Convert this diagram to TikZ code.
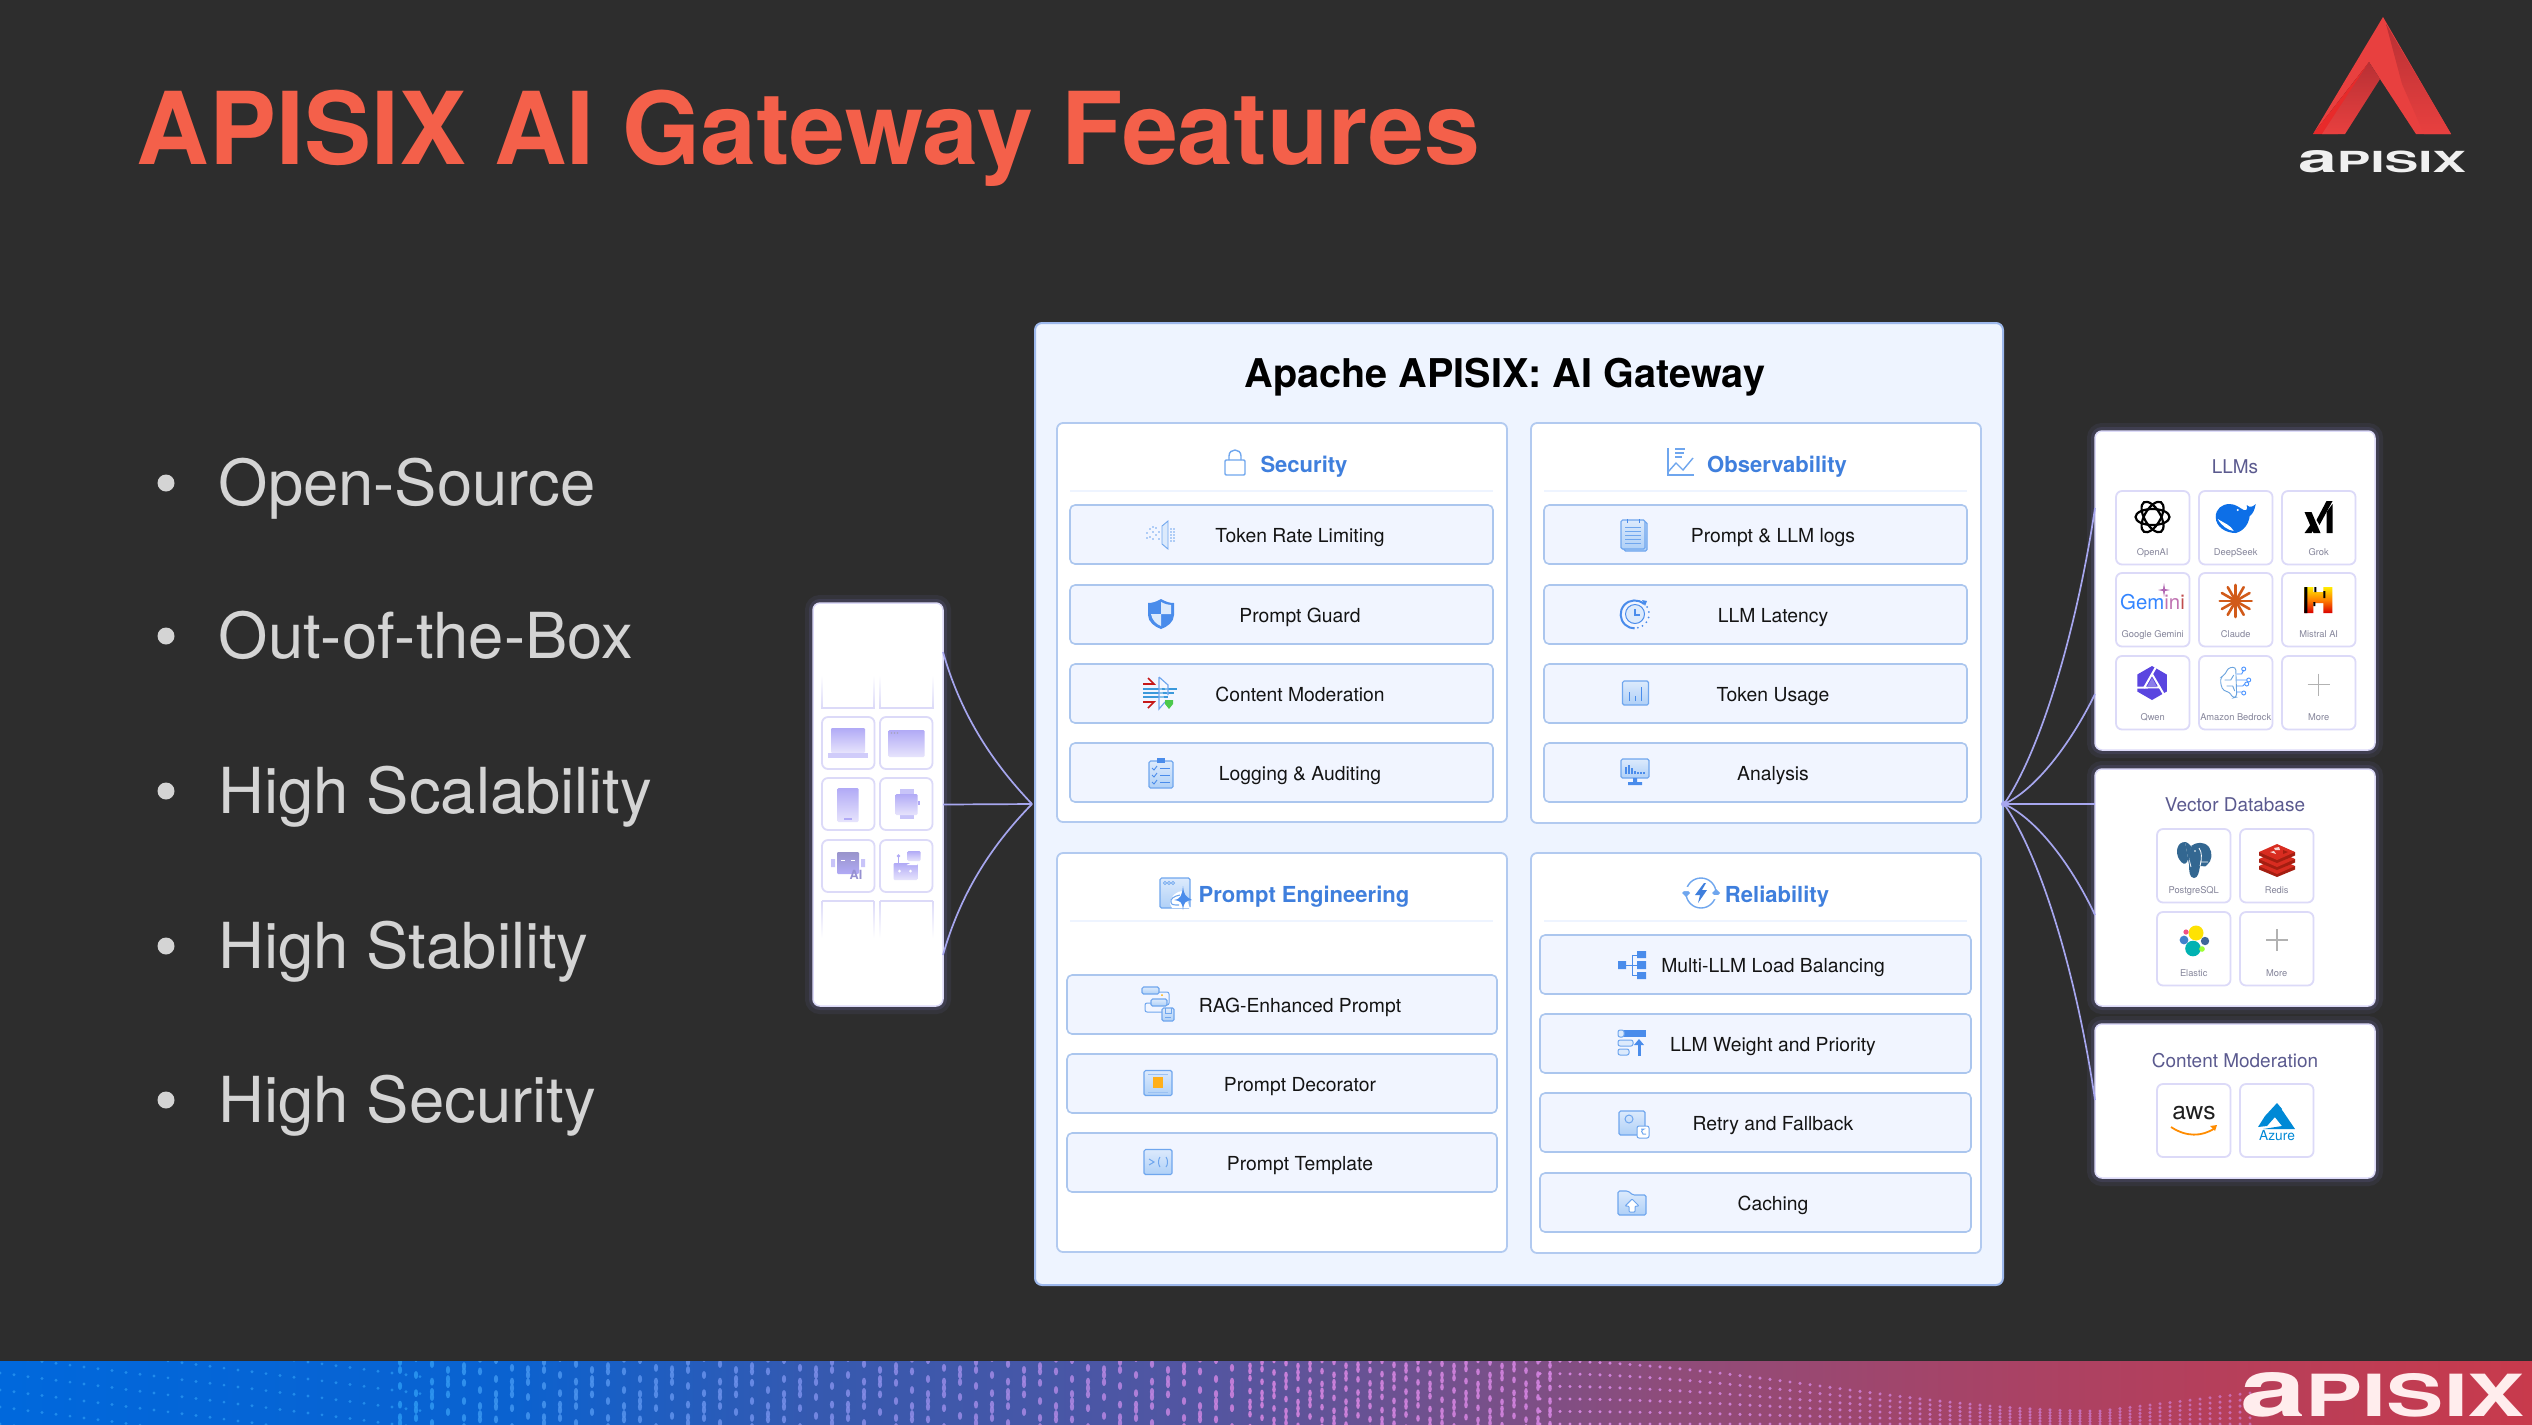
\documentclass[tikz,border=0pt]{standalone}
\usepackage{fontspec}
\setmainfont{TeX Gyre Heros}
\usetikzlibrary{positioning}

\definecolor{slidebg}{HTML}{2D2D2D}
\definecolor{titlered}{HTML}{F4604A}
\definecolor{bulletc}{HTML}{D4D4D4}
\definecolor{gwfill}{HTML}{EEF4FF}
\definecolor{gwline}{HTML}{9DB8EC}
\definecolor{panelline}{HTML}{B2CAF0}
\definecolor{itemfill}{HTML}{F1F5FF}
\definecolor{itemline}{HTML}{ABC6EE}
\definecolor{headblue}{HTML}{3F7FDD}
\definecolor{iconblue}{HTML}{4A8CEB}
\definecolor{padtop}{HTML}{DCEAFC}
\definecolor{padbot}{HTML}{AFD0F7}
\definecolor{padline}{HTML}{6FA6EE}
\definecolor{catc}{HTML}{5B5A8F}
\definecolor{cellline}{HTML}{DCDAF8}
\definecolor{celltxt}{HTML}{85859A}
\definecolor{flowc}{HTML}{A6A6EE}
\definecolor{glowc}{HTML}{8F88E8}
\definecolor{devtop}{HTML}{B1AAF6}
\definecolor{devbot}{HTML}{E7E4FC}
\definecolor{dotblue}{HTML}{2A98F2}
\definecolor{dotpink}{HTML}{D484E0}
\definecolor{fba}{HTML}{0068DC}
\definecolor{fbb}{HTML}{0A62D0}
\definecolor{fbc}{HTML}{3559B0}
\definecolor{fbd}{HTML}{5455A0}
\definecolor{fbe}{HTML}{8F4C7A}
\definecolor{fbf}{HTML}{AA4264}
\definecolor{fbg}{HTML}{C83A4C}
\definecolor{logoa}{HTML}{E8403F}
\definecolor{logob}{HTML}{B83034}
\definecolor{logoc}{HTML}{E82A2A}
\definecolor{qwenc}{HTML}{5A45E0}
\definecolor{pgblue}{HTML}{336791}
\definecolor{redisa}{HTML}{D82C20}
\definecolor{redisb}{HTML}{A41E11}
\definecolor{azurec}{HTML}{0089D6}

\pgfdeclarehorizontalshading{footerbar}{100bp}{color(0bp)=(fba); color(25bp)=(fba); color(35bp)=(fbb); color(41bp)=(fbc); color(49bp)=(fbd); color(58bp)=(fbe); color(65bp)=(fbf); color(75bp)=(fbg); color(100bp)=(fbg)}

\newcommand{\boxat}[6][]{\node[#1, minimum width={(#5-#3)*0.1mm}, minimum height={(#6-#4)*0.1mm}] (#2) at ({(#3+#5)/2},{(#4+#6)/2}) {};}
\newcommand{\apxlogo}{\bfseries\scalebox{1.38}{a}PISIX}

\tikzset{
    gwbox/.style={draw=gwline, fill=gwfill, rounded corners=0.7mm, line width=0.2mm, inner sep=0, outer sep=0},
    panel/.style={draw=panelline, fill=white, rounded corners=0.6mm, line width=0.18mm, inner sep=0, outer sep=0},
    itembox/.style={draw=itemline, fill=itemfill, rounded corners=0.5mm, line width=0.16mm, inner sep=0, outer sep=0},
    sidebox/.style={draw=cellline, fill=white, rounded corners=0.7mm, line width=0.15mm, inner sep=0, outer sep=0,
        preaction={draw=glowc, line width=1.6mm, draw opacity=0.08},
        preaction={draw=glowc, line width=0.8mm, draw opacity=0.12}},
    catcell/.style={draw=cellline, fill=white, rounded corners=0.6mm, line width=0.18mm, inner sep=0, outer sep=0},
    itemtext/.style={anchor=mid, inner sep=0, text=black!92, font=\fontsize{5.5}{6}\selectfont},
    headtext/.style={anchor=mid, inner sep=0, text=headblue, font=\fontsize{6.27}{7}\selectfont\bfseries},
    cattext/.style={anchor=mid, inner sep=0, text=catc, font=\fontsize{5.4}{6}\selectfont},
    celltext/.style={anchor=mid, inner sep=0, text=celltxt, font=\fontsize{2.65}{3}\selectfont},
    bullettext/.style={anchor=mid west, inner sep=0, text=bulletc, font=\fontsize{18.05}{20}\selectfont},
    flow/.style={draw=flowc, line width=0.17mm},
    rule/.style={draw=gwfill, line width=0.12mm},
    hdline/.style={draw=padline, line width=0.14mm},
    strokeb/.style={draw=iconblue, line width=0.14mm},
    iconpad/.style={draw=padline, line width=0.11mm, top color=padtop, bottom color=padbot, rounded corners=0.15mm},
    devpad/.style={top color=devtop, bottom color=devbot, rounded corners=0.12mm},
    lockicon/.pic={
        \draw[hdline, fill=white, rounded corners=0.12mm] (-10,-2) rectangle (10,13);
        \draw[hdline] (-6,-2) -- (-6,-6) .. controls (-6,-14) and (6,-14) .. (6,-6) -- (6,-2);
    },
    charticon/.pic={
        \draw[hdline] (-13,-14) -- (-13,13) -- (13,13);
        \draw[hdline] (-13,10) -- (-5,1) -- (2,8) -- (12,-4);
        \draw[hdline] (-6,-13) -- (4,-13) (-6,-9) -- (3,-9) (-6,-5) -- (1,-5);
    },
    prompthead/.pic={
        \path[iconpad] (-15,-15) rectangle (15,15);
        \foreach \x in {-10,-6,-2} \draw[padline, line width=0.08mm] (\x,-10) circle [radius=1.6];
        \fill[white] (-5,11) .. controls (-4,2) and (2,-2) .. (8,-2) -- (15,15) -- (-3,15) -- cycle;
        \draw[padline, line width=0.11mm] (5,2) .. controls (-1,3) and (-5,6) .. (-4,9) .. controls (-4,12) and (-1,12) .. (4,12);
        \fill[iconblue] (8,-7) .. controls (9,2) and (10,3) .. (17,7) .. controls (10,8) and (9,9) .. (8,17) .. controls (7,9) and (6,8) .. (-1,7) .. controls (6,6) and (7,2) .. (8,-7) -- cycle;
    },
    reliicon/.pic={
        \draw[hdline] (0,0) circle [radius=15];
        \fill[padline] (-19,0) -- (-15,-4) -- (-11,0) -- (-15,4) -- cycle (19,0) -- (15,-4) -- (11,0) -- (15,4) -- cycle;
        \fill[white] (-17,-2) rectangle (-13,-6) (13,2) rectangle (17,6);
        \fill[headblue] (3,-10) -- (-6,2) -- (-1,2) -- (-3,10) -- (6,-3) -- (1,-3) -- (5,-10) -- cycle;
    },
    tokenicon/.pic={
        \draw[padline, line width=0.09mm, fill=padtop] (1,-9) -- (7,-14) -- (7,14) -- (1,9) -- cycle;
        \foreach \a/\b in {-14/-2,-11/-6,-11/2,-8/-3,-8/4,-5/-7,-5/0,-2/-3,-2/4,-14/3,-8/-8}
            \fill[padline] (\a,\b) circle [radius=0.9];
        \foreach \a in {10,13} \foreach \b in {-6,-3,0,3,6}
            \fill[padline] (\a,\b) circle [radius=0.8];
    },
    shieldicon/.pic={
        \fill[iconblue] (0,-15) .. controls (5,-12) and (9,-11) .. (13,-11) -- (13,1) .. controls (13,8) and (6,13) .. (0,15) .. controls (-6,13) and (-13,8) .. (-13,1) -- (-13,-11) .. controls (-9,-11) and (-5,-12) .. (0,-15) -- cycle;
        \fill[padtop] (0,-12) .. controls (4,-10) and (7,-9) .. (10,-9) -- (10,0) -- (0,0) -- cycle;
        \fill[padtop] (0,0) -- (-10,0) .. controls (-9,6) and (-5,10) .. (0,12) -- cycle;
    },
    modicon/.pic={
        \draw[cyan!70!blue!80, line width=0.12mm] (-17,-4) -- (17,-4) (-17,0) -- (14,0) (-17,4) -- (8,4);
        \draw[red!75!black!90, line width=0.16mm] (-17,-9) -- (-6,-9) -- (-12,-15) (-17,9) -- (-6,9) -- (-12,15);
        \draw[padline, line width=0.12mm, fill=white, fill opacity=0.4] (-1,-16) -- (8,-8) -- (8,2) (-1,-16) -- (-1,16) -- (5,9);
        \fill[green!70!black!70] (5,7) -- (13,7) -- (13,11) -- (9,16) -- (5,11) -- cycle;
    },
    logicon/.pic={
        \path[iconpad] (-12,-12) rectangle (12,15);
        \fill[iconblue] (-4,-15) rectangle (4,-10);
        \foreach \y in {-5,2,9} {
            \draw[iconblue, line width=0.09mm] (-9,\y) -- (-7,\y+2) -- (-4,\y-2);
            \draw[iconblue, line width=0.09mm] (-1,\y) -- (9,\y);
        }
    },
    docicon/.pic={
        \path[iconpad] (-10,-13) rectangle (13,16);
        \path[iconpad] (-13,-15) rectangle (11,14);
        \foreach \y in {-8,-4,0,4,8} \draw[padline, line width=0.07mm] (-9,\y) -- (7,\y);
        \draw[iconblue, line width=0.1mm] (-7,-16) -- (-7,-12) (5,-16) -- (5,-12);
    },
    latencyicon/.pic={
        \draw[strokeb, line width=0.2mm] (9,-10) arc (-48:-270:14);
        \draw[iconblue, line width=0.1mm, fill=padtop] (0,0) circle [radius=9.5];
        \draw[iconblue, line width=0.14mm] (0,-5) -- (0,1) -- (5,1);
        \foreach \a in {-30,-8,14,36,58,78} \fill[iconblue] (\a:14) circle [radius=1];
        \fill[iconblue] (12,-13) -- (7,-14) -- (10,-8) -- cycle;
    },
    usageicon/.pic={
        \path[iconpad] (-13,-12) rectangle (13,12);
        \draw[iconblue, line width=0.16mm] (-6,8) -- (-6,-1) (0,8) -- (0,3) (6,8) -- (6,-6);
    },
    analysisicon/.pic={
        \path[iconpad] (-14,-13) rectangle (14,6);
        \draw[iconblue, line width=0.16mm] (-9,2) -- (-9,-5) (-6,2) -- (-6,-7) (-3,2) -- (-3,-4) (0,2) -- (0,-1) (3,2) -- (3,0) (6,2) -- (6,0) (9,2) -- (9,0);
        \fill[iconblue] (-2,6) rectangle (2,10) (-7,10) rectangle (7,13);
    },
    ragicon/.pic={
        \draw[padline, line width=0.1mm, rounded corners=0.2mm] (-4,-12) -- (11,-12) -- (11,1) -- (6,1);
        \draw[padline, line width=0.1mm, rounded corners=0.2mm] (-6,-1) -- (-13,-1) -- (-13,8) -- (4,8);
        \path[iconpad] (-16,-17) rectangle (1,-10);
        \path[iconpad] (-7,-5) rectangle (9,2);
        \path[iconpad] (4,4) rectangle (16,17);
        \draw[padline, line width=0.08mm] (7,4) -- (7,9) -- (13,9) -- (13,4) (7,13) -- (13,13);
        \fill[orange!60!yellow] (4,-9) circle [radius=1];
    },
    decoicon/.pic={
        \path[iconpad] (-14,-12.5) rectangle (14,12.5);
        \fill[orange!70!yellow!90] (-5,-6) rectangle (5,5);
        \draw[padline!70, line width=0.06mm] (-10,-9) -- (10,-9) (-10,9) -- (10,9);
    },
    templateicon/.pic={
        \path[iconpad] (-14,-12.5) rectangle (14,12.5);
        \draw[padline, line width=0.1mm] (-9,-3) -- (-4,0) -- (-9,3);
        \draw[padline, line width=0.1mm] (2,-5) .. controls (0,-3) and (0,3) .. (2,5) (8,-5) .. controls (10,-3) and (10,3) .. (8,5);
    },
    multiicon/.pic={
        \draw[iconblue, line width=0.1mm] (-6,0) -- (5,0) (0,-10) -- (0,10) (0,-10) -- (5,-10) (0,10) -- (5,10);
        \fill[iconblue] (-14,-4) rectangle (-6,4) (5,-14) rectangle (14,-7) (5,-4) rectangle (14,4) (5,7) rectangle (14,14);
    },
    weighticon/.pic={
        \fill[iconblue] (-9,-13) rectangle (14,-6);
        \draw[padline, line width=0.1mm, fill=padtop, rounded corners=0.2mm] (-14,-13) rectangle (-8,-6) (-14,-3) rectangle (1,3) (-14,6) rectangle (-3,12);
        \draw[iconblue, line width=0.3mm] (7,13) -- (7,-1);
        \fill[iconblue] (7,-4) -- (12,2) -- (2,2) -- cycle;
    },
    retryicon/.pic={
        \path[iconpad] (-15,-13) rectangle (11,11);
        \draw[padline, line width=0.1mm, fill=white, rounded corners=0.2mm] (3,2) rectangle (15,14);
        \draw[padline, line width=0.1mm] (-5,-5) circle [radius=4];
        \draw[padline, line width=0.1mm] (12,10) -- (9,10) .. controls (7,9) and (7,6) .. (10,5) -- (7,5);
    },
    cacheicon/.pic={
        \path[iconpad] (-14,-12) -- (-4,-12) -- (1,-8) -- (14,-8) -- (14,12) -- (-14,12) -- cycle;
        \draw[padline, line width=0.1mm, fill=white, rounded corners=0.1mm] (0,-4) -- (7,3) -- (3,3) -- (3,9) -- (-3,9) -- (-3,3) -- (-7,3) -- cycle;
    },
    laptopicon/.pic={
        \path[devpad] (-17,-15) rectangle (17,10);
        \fill[devtop!60] (-20,10) rectangle (20,15);
    },
    browsericon/.pic={
        \path[devpad] (-18,-13) rectangle (18,14);
        \foreach \x in {-15,-12,-9} \fill[devtop!60!black!60] (\x,-10) circle [radius=0.9];
    },
    phoneicon/.pic={
        \path[devpad] (-10.5,-16) rectangle (10.5,18);
        \fill[devtop] (-4,14) rectangle (4,16);
    },
    watchicon/.pic={
        \fill[devtop!70] (-7,-15) rectangle (7,15);
        \path[devpad] (-11,-10) rectangle (11,11);
        \fill[devtop] (11,-3) rectangle (13,1);
    },
    roboticon/.pic={
        \path[devpad, top color=devtop!80!black!90, bottom color=devtop] (-11,-13) rectangle (11,9);
        \fill[devtop!70] (-17,-6) rectangle (-13,2) (13,-6) rectangle (17,2);
        \draw[white, line width=0.1mm] (-7,-5) -- (-3,-5) (3,-5) -- (7,-5);
        \node[inner sep=0, text=devtop!85!black, font=\fontsize{3.6}{4}\selectfont\bfseries] (robottxt) at (8,10) {AI};
    },
    ioticon/.pic={
        \path[devpad] (-13,-2) rectangle (11,15);
        \fill[white] (0,0) -- (11,-6) -- (11,0) -- cycle;
        \draw[devtop, line width=0.12mm] (-8,-2) -- (-8,-8);
        \fill[devtop] (-8,-9) circle [radius=1.8];
        \path[devpad] (1,-14) rectangle (14,-4);
        \fill[white] (-7,6) circle [radius=1.5] (4,6) circle [radius=1.5];
    },
    openaiicon/.pic={
        \foreach \r in {0,60,120}
            \draw[black, line width=0.22mm, rotate=\r] (0,0) ellipse [x radius=17, y radius=8];
    },
    whaleicon/.pic={
        \fill[blue!55!cyan!90!black!95] (-20,0) .. controls (-20,-8) and (-14,-13) .. (-6,-13) .. controls (0,-13) and (4,-9) .. (8,-7) .. controls (11,-6) and (12,-8) .. (11,-12) .. controls (14,-9) and (17,-10) .. (20,-13) .. controls (19,-7) and (17,-3) .. (14,-1) .. controls (13,7) and (8,14) .. (0,16) .. controls (-10,16) and (-20,10) .. (-20,0) -- cycle;
        \fill[white] (-18,2) .. controls (-12,6) and (-5,8) .. (-2,14) .. controls (-8,13) and (-14,9) .. (-18,2) -- cycle;
        \fill[white] (2,-7) circle [radius=1.2];
    },
    xaiicon/.pic={
        \fill[black] (-14,-5) -- (-7,-5) -- (2,16) -- (-5,16) -- cycle;
        \fill[black] (-14,16) -- (-7,16) -- (-3,10) -- (-6,5) -- cycle;
        \fill[black] (-2,3) -- (1,8) -- (14,-16) -- (8,-16) -- cycle;
        \fill[black] (8,-5) -- (14,-13) -- (14,16) -- (8,16) -- cycle;
    },
    claudeicon/.pic={
        \foreach \a in {0,30,...,330}
            \draw[orange!70!red!80!black!90, line width=0.26mm, line cap=round] (0,0) -- (\a:16);
    },
    mistralicon/.pic={
        \path[top color=yellow!85!orange, bottom color=red!85!black, middle color=orange] (-14,-13) -- (-5,-13) -- (-5,-8) -- (5,-8) -- (5,-13) -- (14,-13) -- (14,13) -- (5,13) -- (5,3) -- (-5,3) -- (-5,13) -- (-14,13) -- cycle;
        \fill[black] (-14,-13) rectangle (-11,13) (-4,-13) rectangle (-2,-8) (5,-9) rectangle (7,-2) (-5,2) rectangle (-3,6);
    },
    qwenicon/.pic={
        \fill[qwenc] (30:17) -- (90:17) -- (150:17) -- (210:17) -- (270:17) -- (330:17) -- cycle;
        \foreach \r in {0,120,240}
            \draw[white, line width=0.2mm, rotate=\r] (-8,5) -- (4,-16);
        \fill[qwenc!70!white] (0,-5) -- (5,4) -- (-5,4) -- cycle;
    },
    bedrockicon/.pic={
        \draw[cyan!60!blue!60, line width=0.09mm, rounded corners=0.3mm] (0,-16) -- (-8,-15) -- (-10,-9) -- (-15,-6) -- (-15,2) -- (-12,8) -- (-6,9) -- (-3,15) -- (1,14) -- cycle;
        \draw[cyan!60!blue!60, line width=0.09mm] (-11,-3) -- (-5,-3) -- (-2,-8) (-9,3) -- (-3,3) -- (-1,8);
        \draw[blue!60!cyan!70, line width=0.09mm] (1,-9) -- (6,-9) -- (8,-13) (1,-3) -- (11,-3) (1,3) -- (7,3) -- (9,1) (1,9) -- (6,9);
        \foreach \a/\b/\c in {8/-14/2,13/-3/2,11/1/2,8/10/2}
            \draw[blue!60!cyan!70, line width=0.09mm] (\a,\b) circle [radius=\c];
    },
    plusmarkicon/.pic={
        \draw[black!30, line width=0.12mm] (-11,0) -- (11,0) (0,-11) -- (0,11);
    },
    postgresicon/.pic={
        \fill[pgblue] (-9,-18) .. controls (-17,-18) and (-19,-8) .. (-15,-1) .. controls (-12,4) and (-9,5) .. (-7,2) .. controls (-5,-2) and (-5,-8) .. (-3,-14) .. controls (2,-18) and (10,-19) .. (15,-13) .. controls (19,-7) and (18,1) .. (13,5) .. controls (11,8) and (8,5) .. (6,6) .. controls (5,12) and (4,18) .. (0,18) .. controls (-5,18) and (-5,10) .. (-5,4) -- (-9,-18);
        \draw[white, line width=0.08mm] (-3,-14) .. controls (-7,-8) and (-5,0) .. (-3,7) (6,6) .. controls (8,-2) and (8,-8) .. (5,-12) (6,2) -- (14,2);
        \fill[pgblue] (-3,-14) .. controls (-7,-18) and (-8,-18) .. (-9,-18) -- (-5,4) -- cycle;
        \fill[white] (1,-9) circle [radius=0.9];
    },
    redisicon/.pic={
        \foreach \y in {7,0,-7} {
            \fill[redisb] (-18,\y) -- (-18,\y+3.5) -- (0,\y+11) -- (18,\y+3.5) -- (18,\y) -- cycle;
            \fill[redisa] (-18,\y) -- (0,\y-8) -- (18,\y) -- (0,\y+8) -- cycle;
        }
        \fill[white!80!redisa] (-3,-11) -- (2,-12) -- (3,-9) -- (-2,-9) -- cycle (-7,-7) -- (-3,-8) -- (-1,-5) -- cycle;
        \fill[redisb] (6,-9) -- (11,-7) -- (6,-5) -- cycle;
    },
    elasticicon/.pic={
        \fill[yellow!85!orange] (2,-8) circle [radius=7.5];
        \fill[teal!60!cyan] (-1,7.5) circle [radius=7.8];
        \fill[cyan!50!blue!80] (-10,-1) circle [radius=4.4];
        \fill[magenta!60!red!70] (-8,-9) circle [radius=2.6];
        \fill[cyan!50!blue!70!black] (11,0) circle [radius=4.2];
        \fill[lime!70!green!80] (8,8) circle [radius=2.8];
    },
    awsicon/.pic={
        \node[inner sep=0, text=black!88, font=\fontsize{7}{8}\selectfont] (awstxt) at (0,-5) {aws};
        \draw[orange!90!yellow, line width=0.18mm] (-23,9) .. controls (-8,19) and (8,19) .. (21,10);
        \fill[orange!90!yellow] (23,7) -- (16,8) -- (21,13) -- cycle;
    },
    azureicon/.pic={
        \fill[azurec] (0,-15) -- (-12,-2) -- (-19,9) -- (-10,8) -- (5,-9) -- cycle;
        \fill[azurec] (3,-11) -- (18,11) -- (-14,11) -- (5,8) -- (-3,-2) -- cycle;
        \node[inner sep=0, text=azurec, font=\fontsize{3.9}{4}\selectfont] (azuretxt) at (0,18) {Azure};
    }
}

\begin{document}
\begin{tikzpicture}[x=0.1mm, y=-0.1mm]
    \useasboundingbox (0,0) rectangle (2532,1424);
    \fill[slidebg] (0,0) rectangle (2532,1424);

    \node[anchor=mid west, inner sep=0, text=titlered, font=\fontsize{28.6}{32}\selectfont\bfseries] (slidetitle) at (136,155) {APISIX AI Gateway Features};

    \fill[logoa] (2383,17) -- (2451,134) -- (2416,134) -- (2380,79) -- (2369,62) -- (2313,134) -- cycle;
    \fill[logoc] (2369,62) -- (2338,134) -- (2313,134) -- cycle;
    \path[top color=logob, bottom color=logoa] (2369,62) -- (2380,79) -- (2345,134) -- (2322,134) -- cycle;
    \path[top color=logob, bottom color=logoa] (2386,24) -- (2451,134) -- (2424,134) -- (2402,84) -- cycle;
    \node[inner sep=0, text=white!94!black] (toplogo) at (2382,161.5) {\resizebox{16.8mm}{2.2mm}{\apxlogo}};

    \foreach \nm/\y/\txt in {bopen/483/Open-Source, bbox/636/Out-of-the-Box, bscale/791/High Scalability, bstable/946/High Stability, bsecure/1100/High Security} {
        \node[circle, fill=bulletc, inner sep=0, minimum size=1.7mm] (\nm) at (166,\y) {};
        \node[bullettext] (\nm txt) at (218,\y+13) {\txt};
    }

    \boxat[sidebox]{clients}{813}{603}{943}{1006}
    \foreach \nm/\xa/\ya in {dev1/822/717, dev2/880/717, dev3/822/778, dev4/880/778, dev5/822/840, dev6/880/840}
        \boxat[catcell]{\nm}{\xa}{\ya}{\xa+52.5}{\ya+52}
    \foreach \xa in {822,874,880,933} {
        \shade[top color=white, bottom color=cellline] (\xa-0.8,675) rectangle (\xa+0.8,708);
        \shade[top color=cellline, bottom color=white] (\xa-0.8,901) rectangle (\xa+0.8,938);
    }
    \draw[cellline, line width=0.18mm] (822,708) -- (874,708) (880,708) -- (933,708) (822,901) -- (874,901) (880,901) -- (933,901);
    \pic at (848,743) {laptopicon};
    \pic at (906.5,743) {browsericon};
    \pic at (848,804) {phoneicon};
    \pic at (906.5,804) {watchicon};
    \pic at (848,865) {roboticon};
    \pic at (906.5,865) {ioticon};

    \boxat[gwbox]{gateway}{1035}{323}{2003}{1285}
    \node[anchor=mid, inner sep=0, text=black, font=\fontsize{11.27}{13}\selectfont\bfseries] (gwtitle) at (1505,378.5) {Apache APISIX: AI Gateway};

    \boxat[panel]{security}{1057}{423}{1507}{822}
    \boxat[panel]{observ}{1531}{423}{1981}{823}
    \boxat[panel]{prompt}{1057}{853}{1507}{1252}
    \boxat[panel]{relia}{1531}{853}{1981}{1253}
    \draw[rule] (1070,491) -- (1493,491) (1544,491) -- (1967,491) (1070,921) -- (1493,921) (1544,921) -- (1967,921);

    \node[headtext] (sechead) at (1304,463) {Security};
    \node[headtext] (obshead) at (1777,463) {Observability};
    \node[headtext] (promhead) at (1304,893) {Prompt Engineering};
    \node[headtext] (relhead) at (1777,893) {Reliability};
    \pic at (1235,462) {lockicon};
    \pic at (1681,462) {charticon};
    \pic at (1175,893) {prompthead};
    \pic at (1701,893) {reliicon};

    \foreach \nm/\ya/\yb/\txt in {sec1/505/564/Token Rate Limiting, sec2/585/644/Prompt Guard, sec3/664/723/Content Moderation, sec4/743/802/Logging \& Auditing}
        {\boxat[itembox]{\nm}{1070}{\ya}{1493}{\yb}
        \node[itemtext] (\nm txt) at (1300,{(\ya+\yb)/2-1.5}) {\txt};}
    \foreach \nm/\ya/\yb/\txt in {obs1/505/564/Prompt \& LLM logs, obs2/585/644/LLM Latency, obs3/664/723/Token Usage, obs4/743/802/Analysis}
        {\boxat[itembox]{\nm}{1544}{\ya}{1967}{\yb}
        \node[itemtext] (\nm txt) at (1773,{(\ya+\yb)/2-1.5}) {\txt};}
    \foreach \nm/\ya/\yb/\txt in {prm1/975/1034/RAG-Enhanced Prompt, prm2/1054/1113/Prompt Decorator, prm3/1133/1192/Prompt Template}
        {\boxat[itembox]{\nm}{1067}{\ya}{1497}{\yb}
        \node[itemtext] (\nm txt) at (1300,{(\ya+\yb)/2-1.5}) {\txt};}
    \foreach \nm/\ya/\yb/\txt in {rel1/935/994/Multi-LLM Load Balancing, rel2/1014/1073/LLM Weight and Priority, rel3/1093/1152/Retry and Fallback, rel4/1173/1232/Caching}
        {\boxat[itembox]{\nm}{1540}{\ya}{1971}{\yb}
        \node[itemtext] (\nm txt) at (1773,{(\ya+\yb)/2-1.5}) {\txt};}

    \pic at (1161,535) {tokenicon};
    \pic at (1161,614) {shieldicon};
    \pic at (1160,693) {modicon};
    \pic at (1161,773) {logicon};
    \pic at (1634,535) {docicon};
    \pic at (1635,614) {latencyicon};
    \pic at (1635.5,693) {usageicon};
    \pic at (1635,772) {analysisicon};
    \pic at (1158,1004) {ragicon};
    \pic at (1158,1083) {decoicon};
    \pic at (1158,1162) {templateicon};
    \pic at (1632,965) {multiicon};
    \pic at (1632,1043) {weighticon};
    \pic at (1634,1124) {retryicon};
    \pic at (1632,1203) {cacheicon};

    \boxat[sidebox]{llms}{2095}{431}{2375}{750}
    \boxat[sidebox]{vectordb}{2095}{769}{2375}{1006}
    \boxat[sidebox]{contentmod}{2095}{1024}{2375}{1178}
    \node[cattext] (llmhead) at (2235,464) {LLMs};
    \node[cattext] (vechead) at (2235,802) {Vector Database};
    \node[cattext] (modhead) at (2235,1058) {Content Moderation};

    \foreach \nm/\xa/\ya/\txt in {c1/2116/491/OpenAI, c2/2199/491/DeepSeek, c3/2282/491/Grok, c4/2116/573/Google Gemini, c5/2199/573/Claude, c6/2282/573/Mistral AI, c7/2116/656/Qwen, c8/2199/656/Amazon Bedrock, c9/2282/656/More, v1/2157/829/PostgreSQL, v2/2240/829/Redis, v3/2157/912/Elastic, v4/2240/912/More}
        {\boxat[catcell]{\nm}{\xa}{\ya}{\xa+73.5}{\ya+73.5}
        \node[celltext] (\nm txt) at (\xa+36.7,\ya+55) {\txt};}
    \boxat[catcell]{m1}{2157}{1084}{2230.5}{1157}
    \boxat[catcell]{m2}{2240}{1084}{2313.5}{1157}

    \pic at (2152.5,517) {openaiicon};
    \pic at (2235.7,517) {whaleicon};
    \pic at (2318.5,517) {xaiicon};
    \node[inner sep=0, anchor=mid, font=\fontsize{5.8}{6}\selectfont] (geminitxt) at (2152.5,600) {\textcolor{blue!60!cyan!80}{Gem}\textcolor{blue!45!red!55}{in}\textcolor{red!65!black!70}{i}};
    \fill[blue!50!red!60] (2164,583) -- (2165,589) -- (2170,590) -- (2165,591) -- (2164,597) -- (2163,591) -- (2158,590) -- (2163,589) -- cycle;
    \pic at (2235.7,601) {claudeicon};
    \pic at (2318.3,600) {mistralicon};
    \pic at (2152,683) {qwenicon};
    \pic at (2235.7,683) {bedrockicon};
    \pic at (2318.7,684.7) {plusmarkicon};
    \pic at (2194,860) {postgresicon};
    \pic at (2277,859) {redisicon};
    \pic at (2194,941) {elasticicon};
    \pic at (2277,940) {plusmarkicon};
    \pic at (2194,1118) {awsicon};
    \pic at (2277,1118) {azureicon};

    \coordinate (gwin) at (1032,804);
    \coordinate (gwout) at (2004,804);
    \coordinate (cltop) at (943,652);
    \coordinate (cllow) at (943,955);
    \coordinate (llmtop) at (2095,508);
    \coordinate (llmlow) at (2095,694);
    \coordinate (vecmid) at (2095,804);
    \coordinate (veclow) at (2095,915);
    \coordinate (modtop) at (2095,1100);
    \draw[flow] (cltop) .. controls (960,712) and (990,760) .. (gwin);
    \draw[flow] (clients.east) -- (gwin);
    \draw[flow] (cllow) .. controls (960,895) and (990,847) .. (gwin);
    \draw[flow] (gwout) .. controls (2038,755) and (2075,640) .. (llmtop);
    \draw[flow] (gwout) .. controls (2035,790) and (2070,745) .. (llmlow);
    \draw[flow] (gwout) -- (vecmid);
    \draw[flow] (gwout) .. controls (2035,818) and (2070,862) .. (veclow);
    \draw[flow] (gwout) .. controls (2038,852) and (2075,965) .. (modtop);
    \fill[flowc] (gwout) circle [radius=3];

    \shade[shading=footerbar] (0,1361) rectangle (2532,1424);
    \begin{scope}
        \clip (0,1361) rectangle (2532,1424);
        \foreach \r in {-4,...,4}
            \foreach \x in {0,14,...,420}
                \fill[dotblue, opacity=0.75] (\x,{1356+\r*17+0.13*\x}) circle [radius=1.6];
        \foreach \x in {400,416,...,1240}
            \foreach \j in {0,...,5} {
                \pgfmathtruncatemacro\mixv{(\x-400)/840*100}
                \fill[dotpink!\mixv!dotblue, opacity=0.85] (\x,{1364+\j*12+6*sin(\x*5+\j*70)}) ellipse [x radius=2.1, y radius=4];
            }
        \foreach \x in {1250,1262,...,1560}
            \foreach \j in {0,...,7}
                \fill[dotpink, opacity=0.9] (\x,{1363+\j*9+3*sin(\x*7+\j*90)}) ellipse [x radius=1.8, y radius=3.4];
        \foreach \x in {1540,1550,...,2250} {
            \pgfmathsetmacro\tv{min((\x-1540)/560,1)}
            \pgfmathsetmacro\ytop{1361+50*\tv*\tv*(3-2*\tv)-max(\x-2100,0)*0.12}
            \pgfmathsetmacro\opv{1-0.35*\tv}
            \foreach \j in {0,...,5}
                \fill[dotpink, opacity=\opv] (\x,{\ytop+\j*(1424-\ytop)/5}) circle [radius=1.7];
        }
    \end{scope}
    \node[inner sep=0, text=white!93!red] (footlogo) at (2382.5,1395) {\resizebox{28.5mm}{4.4mm}{\apxlogo}};
\end{tikzpicture}
\end{document}
